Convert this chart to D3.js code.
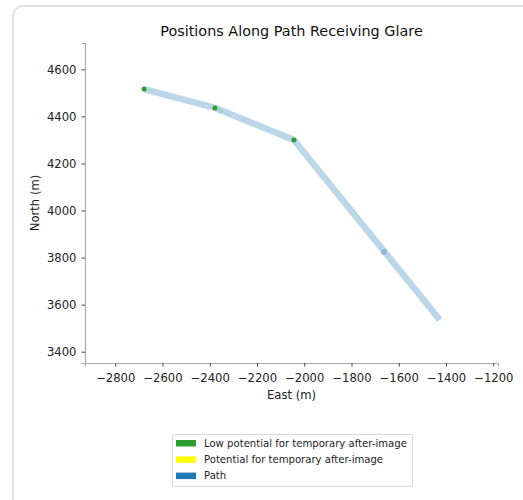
<!DOCTYPE html>
<html><head><meta charset="utf-8">
<script src="https://cdn.jsdelivr.net/npm/d3@7"></script>
<style>body{margin:0;background:#fff}svg{display:block;font-family:"DejaVu Sans",sans-serif}</style>
</head><body><svg id="c" width="523" height="500"></svg>
<script>
const pathEast = [-2678, -2378, -2044, -1426];
const pathNorth = [4516, 4436, 4300, 3535];
const lowEast = [-2678, -2378, -2044];
const lowNorth = [4516, 4436, 4300];
const faintLowEast = [-2354];
const faintLowNorth = [4424];
const pathMarkEast = [-1663];
const pathMarkNorth = [3824];
const xTicks = [-2800, -2600, -2400, -2200, -2000, -1800, -1600, -1400, -1200];
const yTicks = [3400, 3600, 3800, 4000, 4200, 4400, 4600];
const legendLabels = ["Low potential for temporary after-image", "Potential for temporary after-image", "Path"];
const legendColors = ["#2ca02c", "#ffff00", "#1f77b4"];

const svg = d3.select("#c");
svg.append("rect").attr("x", 13).attr("y", 6).attr("width", 530).attr("height", 520)
  .attr("rx", 10).attr("fill", "#fff").attr("stroke", "#e3e3e3").attr("stroke-width", 2);

const L = 85, R = 498, T = 43, B = 363;
const x = d3.scaleLinear().domain([-2928, -1180]).range([L, R]);
const y = d3.scaleLinear().domain([3352, 4712]).range([B, T]);
const fmt = d => d < 0 ? "\u2212" + Math.abs(d) : String(d);
const FS = 11.6;

const gx = svg.append("g").attr("transform", `translate(0,${B})`)
  .call(d3.axisBottom(x).tickValues(xTicks).tickFormat(fmt).tickSize(3.5).tickPadding(7.5));
const gy = svg.append("g").attr("transform", `translate(${L},0)`)
  .call(d3.axisLeft(y).tickValues(yTicks).tickFormat(fmt).tickSize(3.5).tickPadding(5));
[gx, gy].forEach(g => {
  g.selectAll("text").attr("font-size", FS).attr("fill", "#222").attr("font-family", "DejaVu Sans");
  g.selectAll(".tick line").attr("stroke", "#444");
  g.select(".domain").attr("stroke", "#aaa").attr("stroke-width", 1.2);
});

const line = d3.line().x(d => x(d[0])).y(d => y(d[1]));
svg.append("path").datum(pathEast.map((e, i) => [e, pathNorth[i]]))
  .attr("d", line).attr("fill", "none").attr("stroke", "#1f77b4")
  .attr("stroke-opacity", 0.3).attr("stroke-width", 6.5);

svg.selectAll(".pm").data(pathMarkEast).join("circle")
  .attr("cx", d => x(d)).attr("cy", (d, i) => y(pathMarkNorth[i])).attr("r", 3)
  .attr("fill", "#1f77b4").attr("fill-opacity", 0.3);
svg.selectAll(".fl").data(faintLowEast).join("circle")
  .attr("cx", d => x(d)).attr("cy", (d, i) => y(faintLowNorth[i])).attr("r", 2.5)
  .attr("fill", "#2ca02c").attr("fill-opacity", 0.15);
svg.selectAll(".lo").data(lowEast).join("circle")
  .attr("cx", d => x(d)).attr("cy", (d, i) => y(lowNorth[i])).attr("r", 2.5)
  .attr("fill", "#2ca02c");

svg.append("text").attr("x", (L + R) / 2).attr("y", 35.5).attr("text-anchor", "middle")
  .attr("font-size", 14.4).attr("fill", "#111").text("Positions Along Path Receiving Glare");
svg.append("text").attr("x", (L + R) / 2).attr("y", 399).attr("text-anchor", "middle")
  .attr("font-size", FS).attr("fill", "#222").text("East (m)");
svg.append("text").attr("transform", `translate(38.5,${(T + B) / 2}) rotate(-90)`)
  .attr("text-anchor", "middle").attr("font-size", FS).attr("fill", "#222").text("North (m)");

const lg = svg.append("g");
lg.append("rect").attr("x", 172.5).attr("y", 434.5).attr("width", 240).attr("height", 52)
  .attr("rx", 2).attr("fill", "#fff").attr("stroke", "#d8d8d8");
legendLabels.forEach((lab, i) => {
  const yy = 443 + i * 16.3;
  lg.append("rect").attr("x", 176).attr("y", yy - 3).attr("width", 20).attr("height", 6.5)
    .attr("fill", legendColors[i]);
  lg.append("text").attr("x", 204).attr("y", yy + 3.6).attr("font-size", 10.1).attr("fill", "#222").text(lab);
});
</script></body></html>
